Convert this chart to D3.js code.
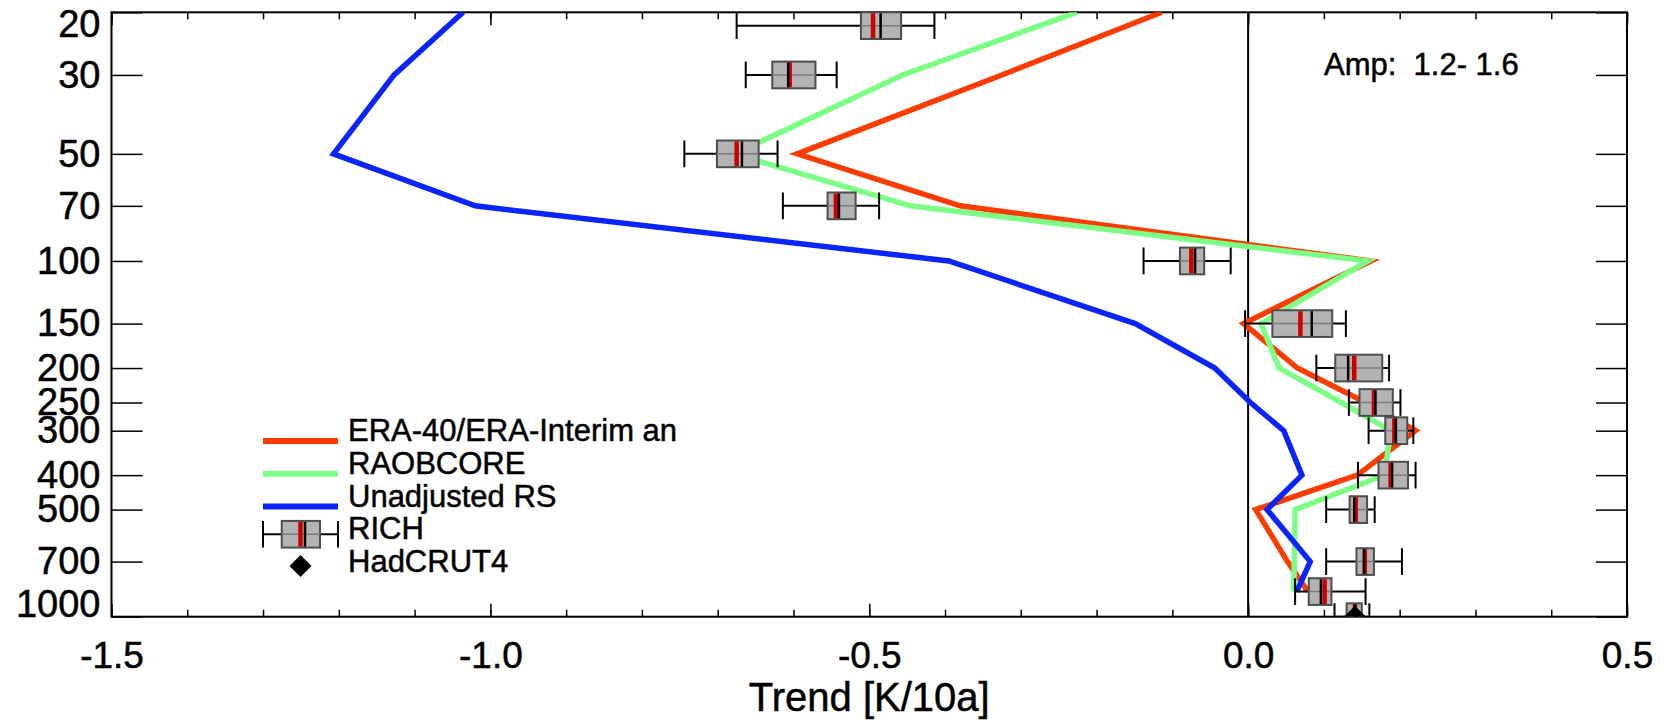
<!DOCTYPE html>
<html>
<head>
<meta charset="utf-8">
<script src="https://d3js.org/d3.v7.min.js"></script>
<style>
    body { margin: 0; background: #fff; }
    text { font-family: "Liberation Sans", Arial, Helvetica, sans-serif; fill: #000; stroke: #000; stroke-width: 0.5px; }
</style>
</head>
<body>
<script>
"use strict";

// pressure levels [hPa] of the profile lines
let levels = [20, 30, 50, 70, 100, 150, 200, 250, 300, 400, 500, 700, 850];

// trends [K/10a]
let eraTrend = [-0.114, -0.325, -0.595, -0.380, 0.162, -0.006, 0.065, 0.155, 0.221, 0.144, 0.010, 0.052, 0.079];
let raobTrend = [-0.226, -0.456, -0.678, -0.446, 0.158, 0.017, 0.041, 0.123, 0.188, 0.180, 0.062, 0.061, 0.060];
let unadjTrend = [-1.036, -1.127, -1.207, -1.020, -0.395, -0.149, -0.044, 0.003, 0.047, 0.071, 0.025, 0.082, 0.064];

// RICH ensemble boxes (1000 = surface)
let richLevels = [20, 30, 50, 70, 100, 150, 200, 250, 300, 400, 500, 700, 850, 1000];
let richMin = [-0.675, -0.663, -0.744, -0.614, -0.138, -0.004, 0.090, 0.133, 0.159, 0.145, 0.103, 0.103, 0.062, 0.114];
let richQ1 = [-0.511, -0.628, -0.701, -0.555, -0.090, 0.032, 0.115, 0.147, 0.181, 0.172, 0.134, 0.143, 0.080, 0.130];
let richMedian = [-0.495, -0.605, -0.675, -0.544, -0.075, 0.069, 0.140, 0.166, 0.193, 0.188, 0.142, 0.154, 0.101, 0.141];
let richMean = [-0.485, -0.607, -0.668, -0.540, -0.070, 0.084, 0.132, 0.168, 0.195, 0.190, 0.140, 0.153, 0.096, 0.141];
let richQ3 = [-0.458, -0.571, -0.646, -0.518, -0.058, 0.111, 0.177, 0.191, 0.210, 0.211, 0.157, 0.166, 0.110, 0.150];
let richMax = [-0.414, -0.543, -0.621, -0.487, -0.023, 0.129, 0.186, 0.201, 0.218, 0.221, 0.167, 0.203, 0.155, 0.160];

let hadcrutLevel = [1000];
let hadcrutTrend = [0.141];

let yTickValues = [20, 30, 50, 70, 100, 150, 200, 250, 300, 400, 500, 700, 1000];
let xTickValues = [-1.5, -1.0, -0.5, 0.0, 0.5];
let seriesNames = ["ERA-40/ERA-Interim an", "RAOBCORE", "Unadjusted RS", "RICH", "HadCRUT4"];
let ampText = "Amp:  1.2- 1.6";
let xTitle = "Trend [K/10a]";

let colors = ["#ff3c00", "#7cff84", "#0a24ff"];

let width = 1671,
    height = 722,
    plotLeft = 111.5,
    plotRight = 1627,
    plotTop = 12.3,
    plotBottom = 616.7,
    boxH = 26.7;

let svg = d3.select("body")
    .append("svg")
    .attr("width", width)
    .attr("height", height);

let x = d3.scaleLinear().domain([-1.5, 0.5]).range([plotLeft, plotRight]);
let y = d3.scaleLog().domain([20, 1000]).range([plotTop, plotBottom]);

svg.append("defs")
    .append("clipPath")
    .attr("id", "plot-clip")
    .append("rect")
    .attr("x", plotLeft)
    .attr("y", plotTop)
    .attr("width", plotRight - plotLeft)
    .attr("height", plotBottom - plotTop);

/* axes */
let minorX = d3.range(-15, 6).map(function (i) { return i / 10; });

function styleAxis(g) {
    g.select(".domain").remove();
    g.selectAll(".tick line").attr("stroke", "#000").attr("stroke-width", 1.5);
}

svg.append("g")
    .attr("transform", "translate(0," + plotBottom + ")")
    .call(d3.axisBottom(x).tickValues(minorX).tickSize(-7).tickFormat(""))
    .call(styleAxis);

svg.append("g")
    .attr("transform", "translate(0," + plotBottom + ")")
    .call(d3.axisBottom(x).tickValues(xTickValues).tickSize(-13).tickPadding(25)
        .tickFormat(function (d) { return d.toFixed(1); }))
    .call(styleAxis)
    .selectAll("text")
    .attr("font-size", 37);

svg.append("g")
    .attr("transform", "translate(0," + plotTop + ")")
    .call(d3.axisTop(x).tickValues(minorX).tickSize(-7).tickFormat(""))
    .call(styleAxis);

svg.append("g")
    .attr("transform", "translate(0," + plotTop + ")")
    .call(d3.axisTop(x).tickValues(xTickValues).tickSize(-13).tickFormat(""))
    .call(styleAxis);

svg.append("g")
    .attr("transform", "translate(" + plotLeft + ",0)")
    .call(d3.axisLeft(y).tickValues(yTickValues).tickSize(-31).tickPadding(11)
        .tickFormat(d3.format("d")))
    .call(styleAxis)
    .selectAll("text")
    .attr("font-size", 38)
    // edge labels are pushed inside the frame
    .attr("y", function (d) {
        let yy = Math.max(plotTop + 12, Math.min(plotBottom - 12, y(d)));
        return yy - y(d);
    });

svg.append("g")
    .attr("transform", "translate(" + plotRight + ",0)")
    .call(d3.axisRight(y).tickValues(yTickValues).tickSize(-31).tickFormat(""))
    .call(styleAxis);

svg.append("rect")
    .attr("x", plotLeft)
    .attr("y", plotTop)
    .attr("width", plotRight - plotLeft)
    .attr("height", plotBottom - plotTop)
    .attr("fill", "none")
    .attr("stroke", "#000")
    .attr("stroke-width", 2);

svg.append("line")
    .attr("x1", x(0)).attr("x2", x(0))
    .attr("y1", plotTop).attr("y2", plotBottom)
    .attr("stroke", "#000")
    .attr("stroke-width", 2);

svg.append("text")
    .attr("x", (plotLeft + plotRight) / 2)
    .attr("y", 711)
    .attr("text-anchor", "middle")
    .attr("font-size", 40)
    .text(xTitle);

svg.append("text")
    .attr("x", 1324)
    .attr("y", 75)
    .attr("font-size", 31)
    .style("white-space", "pre")
    .text(ampText);

/* profiles */
let plot = svg.append("g").attr("clip-path", "url(#plot-clip)");

let line = d3.line()
    .x(function (d) { return x(d.v); })
    .y(function (d) { return y(d.p); });

[eraTrend, raobTrend, unadjTrend].forEach(function (series, k) {
    plot.append("path")
        .datum(series.map(function (v, i) { return { p: levels[i], v: v }; }))
        .attr("d", line)
        .attr("fill", "none")
        .attr("stroke", colors[k])
        .attr("stroke-width", 5.5)
        .attr("stroke-linejoin", "miter");
});

/* RICH boxes */
function drawBox(g, cx, cy, d) {
    let h = boxH / 2;
    g.append("line")
        .attr("x1", cx(d.min)).attr("x2", cx(d.max))
        .attr("y1", cy).attr("y2", cy)
        .attr("stroke", "#000").attr("stroke-width", 2);
    [d.min, d.max].forEach(function (v) {
        g.append("line")
            .attr("x1", cx(v)).attr("x2", cx(v))
            .attr("y1", cy - h).attr("y2", cy + h)
            .attr("stroke", "#000").attr("stroke-width", 2);
    });
    g.append("rect")
        .attr("x", cx(d.q1))
        .attr("y", cy - h)
        .attr("width", cx(d.q3) - cx(d.q1))
        .attr("height", boxH)
        .attr("fill", "#b3b3b3")
        .attr("stroke", "#4d4d4d")
        .attr("stroke-width", 2);
    g.append("line")
        .attr("x1", cx(d.q1)).attr("x2", cx(d.q3))
        .attr("y1", cy).attr("y2", cy)
        .attr("stroke", "#7a7a7a").attr("stroke-width", 1.5);
    g.append("line")
        .attr("x1", cx(d.med)).attr("x2", cx(d.med))
        .attr("y1", cy - h + 1).attr("y2", cy + h - 1)
        .attr("stroke", "#cc0000").attr("stroke-width", 4.5);
    g.append("line")
        .attr("x1", cx(d.mean)).attr("x2", cx(d.mean))
        .attr("y1", cy - h + 1).attr("y2", cy + h - 1)
        .attr("stroke", "#000").attr("stroke-width", 2.5);
}

let richData = richLevels.map(function (p, i) {
    return {
        p: p, min: richMin[i], q1: richQ1[i], med: richMedian[i],
        mean: richMean[i], q3: richQ3[i], max: richMax[i]
    };
});

richData.forEach(function (d) {
    // top level box kept inside the frame
    let cy = Math.max(y(d.p), plotTop + boxH / 2);
    drawBox(plot.append("g"), x, cy, d);
});

let diamond = d3.symbol().type(d3.symbolSquare).size(242);

plot.selectAll("path.hadcrut")
    .data(hadcrutTrend)
    .enter().append("path")
    .attr("class", "hadcrut")
    .attr("d", diamond)
    .attr("transform", function (d, i) {
        return "translate(" + x(d) + "," + y(hadcrutLevel[i]) + ") rotate(45)";
    })
    .attr("fill", "#000");

/* legend */
let legend = svg.append("g"),
    lx0 = 263, lx1 = 338, ltx = 348, ly0 = 441, lstep = 32.75;

seriesNames.forEach(function (name, i) {
    let ly = ly0 + i * lstep;
    if (i < 3) {
        legend.append("line")
            .attr("x1", lx0).attr("x2", lx1)
            .attr("y1", ly).attr("y2", ly)
            .attr("stroke", colors[i])
            .attr("stroke-width", 6);
    } else if (i === 3) {
        let lscale = d3.scaleLinear().domain([0, 1]).range([lx0, lx1]);
        drawBox(legend.append("g"), lscale, ly - 5,
            { min: 0, q1: 0.25, med: 0.5, mean: 0.56, q3: 0.76, max: 1 });
    } else {
        legend.append("path")
            .attr("d", diamond)
            .attr("transform", "translate(" + (lx0 + lx1) / 2 + "," + (ly - 6) + ") rotate(45)")
            .attr("fill", "#000");
    }
    legend.append("text")
        .attr("x", ltx)
        .attr("y", ly)
        .attr("font-size", 31)
        .text(name);
});
</script>
</body>
</html>
